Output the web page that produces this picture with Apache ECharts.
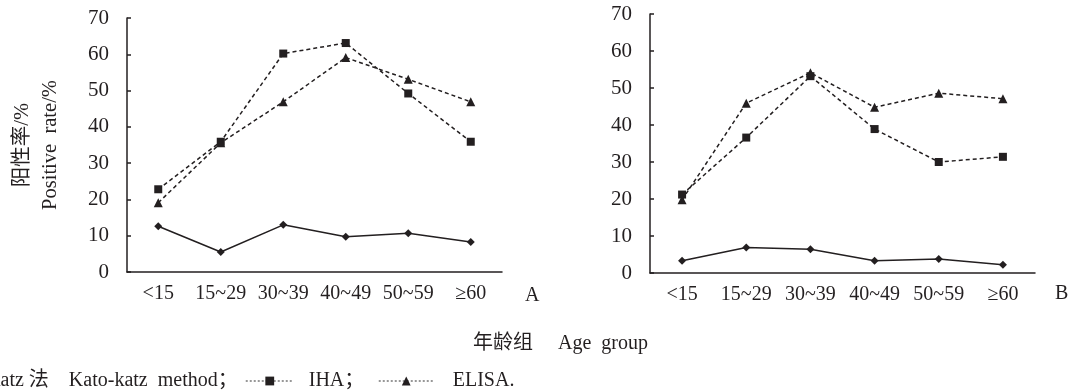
<!DOCTYPE html>
<html><head><meta charset="utf-8">
<script src="https://cdn.jsdelivr.net/npm/echarts@6/dist/echarts.min.js"></script>
<style>html,body{margin:0;padding:0;background:#fff}#c{width:1069px;height:390px}</style>
</head><body><div id="c"></div>
<script>
const categories = ['<15', '15~29', '30~39', '40~49', '50~59', '≥60'];
const yTicks = [0, 10, 20, 30, 40, 50, 60, 70];
// Panel A
const kato_A  = [12.6, 5.5, 13.0, 9.7, 10.7, 8.3];
const iha_A   = [22.8, 35.9, 60.2, 63.1, 49.2, 35.9];
const elisa_A = [19.1, 35.6, 46.9, 59.1, 53.1, 46.9];
// Panel B
const kato_B  = [3.3, 6.9, 6.4, 3.3, 3.8, 2.2];
const iha_B   = [21.2, 36.6, 53.2, 38.9, 30.0, 31.4];
const elisa_B = [19.8, 45.9, 54.1, 44.8, 48.6, 47.1];

const FONT = '"Liberation Serif", "Noto Sans CJK SC", serif';
const INK = '#231f20';
const chart = echarts.init(document.getElementById('c'));

function xAx(gi){
  return {type:'category', gridIndex:gi, data:categories, boundaryGap:true,
    axisLine:{lineStyle:{color:INK,width:1.5}},
    axisTick:{inside:true,length:5,lineStyle:{color:INK,width:1.5}},
    axisLabel:{color:INK,fontFamily:FONT,fontSize:20,margin:12,interval:0}};
}
function yAx(gi, withName){
  const o = {type:'value', gridIndex:gi, min:0, max:70, interval:10,
    axisLine:{show:true,lineStyle:{color:INK,width:1.5}},
    axisTick:{show:true,inside:true,length:4,lineStyle:{color:INK,width:1.5}},
    splitLine:{show:false},
    axisLabel:{color:INK,fontFamily:FONT,fontSize:21,margin:18,
      formatter:v=>yTicks.includes(v)?String(v):''}};
  if(withName){
    o.name = '阳性率/%\nPositive  rate/%';
    o.nameLocation = 'middle';
    o.nameRotate = 90;
    o.nameGap = 62;
    o.nameTextStyle = {color:INK,fontFamily:FONT,fontSize:20.5,lineHeight:28};
  }
  return o;
}
function ser(name, data, gi, dashed, symbol, size){
  return {name, type:'line', xAxisIndex:gi, yAxisIndex:gi, data,
    symbol, symbolSize:size,
    lineStyle:{color:INK,width:1.5,type:dashed?[4,3]:'solid'},
    itemStyle:{color:INK}, emphasis:{disabled:true}, animation:false};
}
const legText = {color:INK,fontFamily:FONT,fontSize:20};
chart.setOption({
  animation:false,
  grid:[{left:127,top:18,width:375,height:254},{left:650,top:14,width:385,height:259}],
  xAxis:[xAx(0),xAx(1)],
  yAxis:[yAx(0,true),yAx(1,false)],
  series:[
    ser('Kato-katz',kato_A,0,false,'diamond',8),
    ser('IHA',iha_A,0,true,'rect',8),
    ser('ELISA',elisa_A,0,true,'triangle',9),
    ser('Kato-katz',kato_B,1,false,'diamond',8),
    ser('IHA',iha_B,1,true,'rect',8),
    ser('ELISA',elisa_B,1,true,'triangle',9)
  ],
  legend:[
    {data:['Kato-katz'],left:-86,top:371,padding:0,itemWidth:25,itemHeight:10,selectedMode:false,
     formatter:()=>'Kato-katz 法    Kato-katz  method；',textStyle:legText},
    {data:['IHA'],left:245,top:371,padding:0,itemWidth:48,itemHeight:11,selectedMode:false,
     lineStyle:{type:[2,2],width:1.5,color:'#777'},
     formatter:()=>'IHA；',textStyle:Object.assign({padding:[0,0,0,10]},legText)},
    {data:['ELISA'],left:378,top:371,padding:0,itemWidth:55,itemHeight:11,selectedMode:false,
     lineStyle:{type:[2,2],width:1.5,color:'#777'},
     formatter:()=>'ELISA.',textStyle:Object.assign({padding:[0,0,0,14]},legText)}
  ],
  graphic:[
    {type:'text',left:525,top:286,style:{text:'A',fill:INK,font:'20px '+FONT}},
    {type:'text',left:1055,top:284,style:{text:'B',fill:INK,font:'20px '+FONT}},
    {type:'text',left:473,top:334,style:{text:'年龄组     Age  group',fill:INK,font:'20px '+FONT}}
  ]
});
</script></body></html>
